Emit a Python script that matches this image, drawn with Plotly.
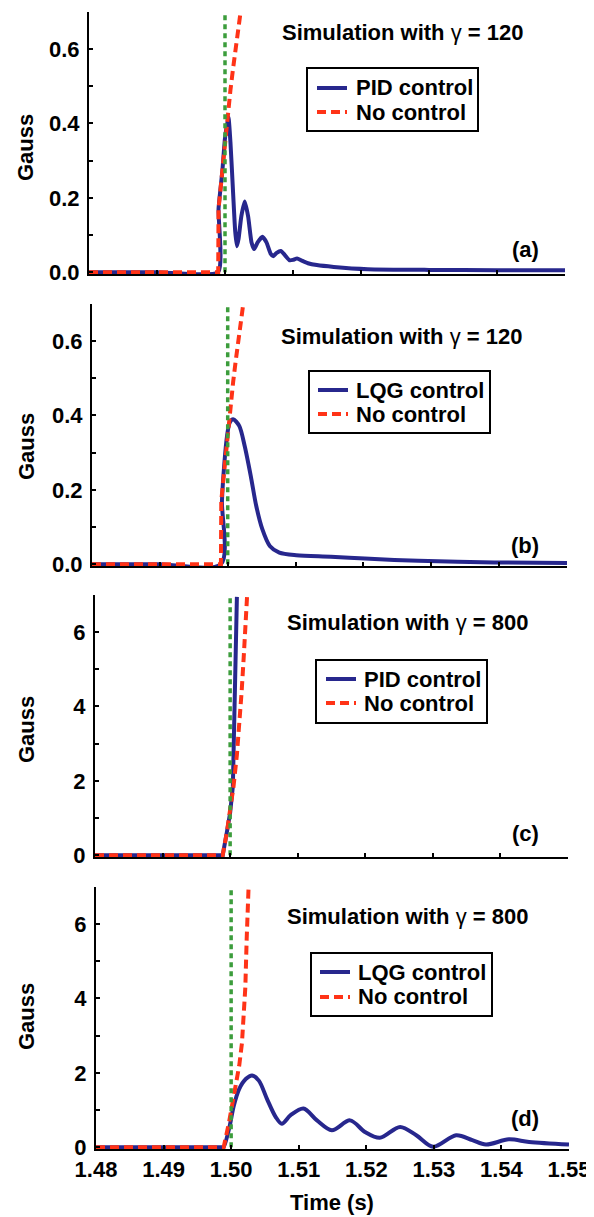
import plotly.graph_objects as go

# page body has an 8px margin: figure is sized to fit the 594x1217 window
OFF = 8
W, H = 594 - OFF, 1217 - OFF

# ---------------- data ----------------
time_ticks = [1.48, 1.49, 1.50, 1.51, 1.52, 1.53, 1.54, 1.55]
time_ticktext = ["1.48", "1.49", "1.50", "1.51", "1.52", "1.53", "1.54", "1.55"]
gauss_ticks_small = [0.0, 0.2, 0.4, 0.6]
gauss_ticktext_small = ["0.0", "0.2", "0.4", "0.6"]
gauss_ticks_large = [0, 2, 4, 6]
gauss_ticktext_large = ["0", "2", "4", "6"]

onset_time = 1.5  # green dotted marker

# (a) gamma = 120, PID control
pid120_t = [1.48, 1.48995, 1.4990, 1.49905, 1.4996, 1.5000, 1.5005, 1.5008, 1.5012, 1.5015, 1.50175,
            1.5020, 1.5024, 1.5029, 1.5034, 1.5039, 1.5043, 1.5048, 1.5055, 1.5061, 1.5067,
            1.5071, 1.5076, 1.5082, 1.5088, 1.5095, 1.5100, 1.5106, 1.5113, 1.5122, 1.5135,
            1.5160, 1.5210, 1.5300, 1.5400, 1.5500]
pid120_v = [0, 0, 0, 0.17, 0.27, 0.36, 0.417, 0.35, 0.21, 0.11, 0.07,
            0.09, 0.15, 0.19, 0.15, 0.08, 0.062, 0.08, 0.095, 0.08, 0.05,
            0.043, 0.052, 0.057, 0.046, 0.032, 0.033, 0.037, 0.031, 0.024, 0.019,
            0.014, 0.008, 0.006, 0.005, 0.005]

# (a),(b) gamma = 120, no control
nc120_t = [1.48, 1.4990, 1.49905, 1.4996, 1.5000, 1.5004, 1.5008, 1.5012, 1.5016, 1.5020, 1.5024, 1.5028]
nc120_v = [0, 0, 0.17, 0.27, 0.36, 0.43, 0.49, 0.55, 0.61, 0.66, 0.71, 0.77]

# (b) gamma = 120, LQG control
lqg120_t = [1.48, 1.48995, 1.4990, 1.49915, 1.4995, 1.4999, 1.5003, 1.5008, 1.5017, 1.5025, 1.5034,
            1.5042, 1.5051, 1.5062, 1.5076, 1.5101, 1.5152, 1.5202, 1.5281, 1.5393, 1.5500]
lqg120_v = [0, 0, 0, 0.17, 0.27, 0.345, 0.381, 0.39, 0.372, 0.318, 0.237,
            0.157, 0.094, 0.049, 0.031, 0.024, 0.020, 0.015, 0.009, 0.0045, 0.003]

# (c) gamma = 800, PID control
pid800_t = [1.48, 1.4989, 1.4995, 1.5000, 1.5004, 1.5006, 1.50087, 1.5010]
pid800_v = [0, 0, 0.6, 1.14, 1.85, 3.8, 5.58, 6.95]

# (c) gamma = 800, no control
nc800c_t = [1.48, 1.4989, 1.4995, 1.5000, 1.5005, 1.5010, 1.5014, 1.5017, 1.5020, 1.5022, 1.50245, 1.5027]
nc800c_v = [0, 0, 0.6, 1.15, 1.85, 2.7, 3.6, 4.4, 5.3, 6.2, 6.96, 7.6]

# (d) gamma = 800, LQG control
lqg800_t = [1.48, 1.4988, 1.4989, 1.4997, 1.5004, 1.5012, 1.5022, 1.5031, 1.5041, 1.5053, 1.5066,
            1.5075, 1.5088, 1.5107, 1.5127, 1.5149, 1.5176, 1.5198, 1.5220, 1.5250, 1.5274,
            1.5299, 1.5333, 1.5357, 1.5377, 1.5411, 1.5441, 1.5500]
lqg800_v = [0, 0, 0, 0.5, 1.12, 1.57, 1.84, 1.93, 1.79, 1.30, 0.81,
            0.63, 0.86, 1.04, 0.72, 0.455, 0.72, 0.41, 0.25, 0.545, 0.32,
            0.01, 0.32, 0.19, 0.07, 0.21, 0.14, 0.07]

# (d) gamma = 800, no control
nc800d_t = [1.48, 1.4989, 1.4997, 1.5004, 1.5012, 1.5016, 1.5019, 1.5021, 1.5023, 1.50255, 1.5027]
nc800d_v = [0, 0, 0.68, 1.39, 2.2, 2.8, 3.5, 4.3, 5.6, 6.95, 7.6]

panel_letters = ["(a)", "(b)", "(c)", "(d)"]
gammas = ["120", "120", "800", "800"]
controls = ["PID control", "LQG control", "PID control", "LQG control"]
no_control_label = "No control"

# ---------------- style ----------------
BLUE = "#27278d"
RED = "#ff3317"
GREEN = "#3c9d3c"
FONT = "Liberation Sans"
FS = 22

def px(x):
    return (x - OFF) / W

def py(y):
    return 1 - (y - OFF) / H

# panel geometry (window pixels)
panels = [
    dict(x0=89, x1=565, yt=12, yb=274, ymax=0.7, eps=0.005, shape="spline", smooth=0.5),
    dict(x0=92, x1=567, yt=304, yb=566, ymax=0.7, eps=0.005, shape="spline", smooth=0.8),
    dict(x0=95, x1=568, yt=595, yb=857, ymax=7.0, eps=0.05, shape="linear", smooth=0),
    dict(x0=96, x1=569, yt=887, yb=1149, ymax=7.0, eps=0.05, shape="spline", smooth=0.9),
]

series = [
    (pid120_t, pid120_v, nc120_t, nc120_v),
    (lqg120_t, lqg120_v, nc120_t, nc120_v),
    (pid800_t, pid800_v, nc800c_t, nc800c_v),
    (lqg800_t, lqg800_v, nc800d_t, nc800d_v),
]

fig = go.Figure()

for i, (bt, bv, rt, rv) in enumerate(series):
    sfx = "" if i == 0 else str(i + 1)
    xa, ya = "x" + sfx, "y" + sfx
    p = panels[i]
    fig.add_trace(go.Scatter(x=bt, y=bv, mode="lines", xaxis=xa, yaxis=ya,
                             line=dict(color=BLUE, width=4, shape=p["shape"],
                                       smoothing=p["smooth"]),
                             showlegend=False))
    fig.add_trace(go.Scatter(x=rt, y=rv, mode="lines", xaxis=xa, yaxis=ya,
                             line=dict(color=RED, width=4, dash="9px,5px"),
                             showlegend=False))
    fig.add_trace(go.Scatter(x=[onset_time, onset_time], y=[0, p["ymax"]], mode="lines",
                             xaxis=xa, yaxis=ya,
                             line=dict(color=GREEN, width=3.5, dash="5px,4px"),
                             showlegend=False))

layout = dict(
    width=W, height=H,
    margin=dict(l=0, r=0, t=0, b=0, autoexpand=False),
    paper_bgcolor="white", plot_bgcolor="white",
    font=dict(family=FONT, size=FS, color="black"),
    showlegend=False,
)

for i, p in enumerate(panels):
    sfx = "" if i == 0 else str(i + 1)
    big = p["ymax"] > 1
    xaxis = dict(
        domain=[px(p["x0"]), px(p["x1"])],
        anchor="y" + sfx,
        range=[1.48, 1.55],
        tickvals=time_ticks,
        ticktext=time_ticktext,
        showticklabels=(i == 3),
        ticks="inside", ticklen=4, tickwidth=2, tickcolor="black",
        showline=True, linewidth=2, linecolor="black",
        showgrid=False, zeroline=False, automargin=False,
        tickfont=dict(family=FONT, size=FS, weight="bold"),
        ticklabelstandoff=0,
    )
    yaxis = dict(
        domain=[py(p["yb"]), py(p["yt"])],
        anchor="x" + sfx,
        range=[-p["eps"], p["ymax"]],
        tickvals=gauss_ticks_large if big else gauss_ticks_small,
        ticktext=gauss_ticktext_large if big else gauss_ticktext_small,
        ticks="inside", ticklen=4, tickwidth=2, tickcolor="black",
        minor=dict(dtick=1 if big else 0.1, tick0=0, ticks="inside", ticklen=4,
                   tickwidth=2, tickcolor="black"),
        showline=True, linewidth=2, linecolor="black",
        showgrid=False, zeroline=False, automargin=False,
        tickfont=dict(family=FONT, size=FS, weight="bold"),
        ticklabelstandoff=3,
    )
    layout["xaxis" + sfx] = xaxis
    layout["yaxis" + sfx] = yaxis

fig.update_layout(**layout)

# ---------------- annotations & legends (window pixels) ----------------
gauss_y = [148, 447, 730, 1017]
title_xy = [(402, 33), (401, 336), (407, 622), (407, 916)]
letter_xy = [(525, 249), (525, 545), (525, 833), (525, 1118)]
legend_geo = [
    dict(box=(307, 68, 478, 131), rows=(88, 112), sx=(317, 347), tx=354),
    dict(box=(309, 371, 490, 433), rows=(390, 414), sx=(318, 348), tx=354),
    dict(box=(316, 660, 487, 723), rows=(679, 703), sx=(326, 356), tx=362),
    dict(box=(311, 953, 492, 1016), rows=(972, 997), sx=(320, 350), tx=356),
]

bold = dict(family=FONT, size=FS, color="black", weight="bold")

for i in range(4):
    fig.add_annotation(x=px(26), y=py(gauss_y[i]), xref="paper", yref="paper",
                       text="Gauss", textangle=-90, showarrow=False, font=bold,
                       xanchor="center", yanchor="middle")
    tx, ty = title_xy[i]
    fig.add_annotation(x=px(tx), y=py(ty), xref="paper", yref="paper",
                       text="<b>Simulation with </b>γ<b> = " + gammas[i] + "</b>",
                       showarrow=False,
                       font=dict(family=FONT, size=FS, color="black"),
                       xanchor="center", yanchor="middle")
    lx, ly = letter_xy[i]
    fig.add_annotation(x=px(lx), y=py(ly), xref="paper", yref="paper",
                       text=panel_letters[i], showarrow=False, font=bold,
                       xanchor="center", yanchor="middle")
    g = legend_geo[i]
    bx0, by0, bx1, by1 = g["box"]
    fig.add_shape(type="rect", xref="paper", yref="paper",
                  x0=px(bx0), x1=px(bx1), y0=py(by1), y1=py(by0),
                  line=dict(color="black", width=2), fillcolor="white", layer="above")
    entries = [(controls[i], BLUE, "solid"), (no_control_label, RED, "9px,5px")]
    for (label, col, dash), ry in zip(entries, g["rows"]):
        fig.add_shape(type="line", xref="paper", yref="paper",
                      x0=px(g["sx"][0]), x1=px(g["sx"][1]), y0=py(ry), y1=py(ry),
                      line=dict(color=col, width=4, dash=dash), layer="above")
        fig.add_annotation(x=px(g["tx"]), y=py(ry), xref="paper", yref="paper",
                           text=label, showarrow=False, font=bold,
                           xanchor="left", yanchor="middle")

fig.add_annotation(x=px(332), y=py(1202), xref="paper", yref="paper",
                   text="Time (s)", showarrow=False, font=bold,
                   xanchor="center", yanchor="middle")

fig.write_html("out.html")
